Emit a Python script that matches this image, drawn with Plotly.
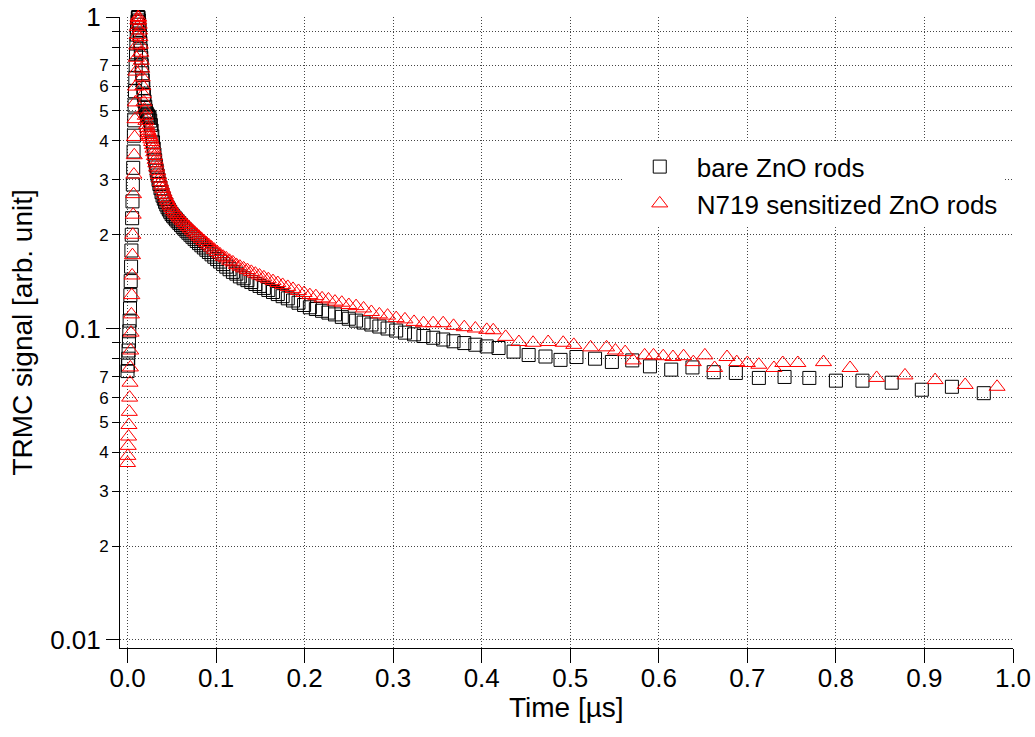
import plotly.graph_objects as go
import math

# ---- data ----
bare_t = [0.0000, 0.0004, 0.0008, 0.0012, 0.0016, 0.0020, 0.0024, 0.0028, 0.0032, 0.0036,
          0.0040, 0.0044, 0.0048, 0.0052, 0.0056, 0.0060, 0.0064, 0.0068, 0.0072, 0.0076,
          0.0080, 0.0084, 0.0088, 0.0092, 0.0096, 0.0100, 0.0104, 0.0108, 0.0112, 0.0116,
          0.0120, 0.0124, 0.0128, 0.0132, 0.0136, 0.0140, 0.0145, 0.0150, 0.0155, 0.0160,
          0.0166, 0.0172, 0.0178, 0.0185, 0.0192, 0.0200, 0.0208, 0.0216, 0.0224, 0.0232,
          0.0240, 0.0248, 0.0256, 0.0264, 0.0272, 0.0280, 0.0288, 0.0296, 0.0304, 0.0312,
          0.0320, 0.0330, 0.0340, 0.0350, 0.0360, 0.0372, 0.0384, 0.0396, 0.0410, 0.0424,
          0.0438, 0.0452, 0.0467, 0.0482, 0.0498, 0.0514, 0.0531, 0.0548, 0.0566, 0.0585,
          0.0604, 0.0624, 0.0644, 0.0665, 0.0687, 0.0710, 0.0733, 0.0757, 0.0782, 0.0808,
          0.0834, 0.0862, 0.0890, 0.0919, 0.0949, 0.0980, 0.1012, 0.1045, 0.1080, 0.1115,
          0.1152, 0.1190, 0.1229, 0.1269, 0.1311, 0.1354, 0.1398, 0.1444, 0.1491, 0.1540,
          0.1590, 0.1643, 0.1697, 0.1752, 0.1810, 0.1869, 0.1931, 0.1994, 0.2059, 0.2127,
          0.2197, 0.2269, 0.2343, 0.2420, 0.2499, 0.2581, 0.2666, 0.2754, 0.2844, 0.2937,
          0.3034, 0.3133, 0.3236, 0.3342, 0.3452, 0.3565, 0.3682, 0.3803, 0.3928, 0.4057,
          0.4190, 0.436, 0.453, 0.472, 0.489, 0.507, 0.528, 0.547, 0.570, 0.590,
          0.614, 0.638, 0.662, 0.687, 0.713, 0.742, 0.770, 0.800, 0.830, 0.863,
          0.897, 0.931, 0.967]
bare_v = [0.073, 0.076, 0.080, 0.085, 0.091, 0.098, 0.106, 0.116, 0.128, 0.142,
          0.158, 0.178, 0.200, 0.226, 0.256, 0.290, 0.328, 0.370, 0.416, 0.466,
          0.520, 0.578, 0.638, 0.700, 0.762, 0.822, 0.878, 0.926, 0.965, 0.992,
          1.000, 0.995, 0.975, 0.945, 0.910, 0.870, 0.825, 0.780, 0.740, 0.700,
          0.660, 0.625, 0.592, 0.562, 0.536, 0.515, 0.500, 0.490, 0.484, 0.480,
          0.478, 0.475, 0.465, 0.450, 0.432, 0.414, 0.396, 0.378, 0.362, 0.347,
          0.334, 0.321, 0.310, 0.300, 0.291, 0.282, 0.274, 0.267, 0.261, 0.255,
          0.250, 0.245, 0.241, 0.237, 0.233, 0.230, 0.227, 0.224, 0.221, 0.218,
          0.215, 0.212, 0.209, 0.206, 0.203, 0.200, 0.197, 0.194, 0.191, 0.188,
          0.185, 0.182, 0.179, 0.176, 0.173, 0.170, 0.167, 0.164, 0.161, 0.158,
          0.155, 0.152, 0.150, 0.147, 0.145, 0.143, 0.141, 0.139, 0.137, 0.135,
          0.133, 0.131, 0.129, 0.127, 0.125, 0.123, 0.121, 0.119, 0.117, 0.1155,
          0.114, 0.1125, 0.111, 0.109, 0.1075, 0.106, 0.1045, 0.103, 0.1015, 0.100,
          0.0985, 0.097, 0.0958, 0.0946, 0.0934, 0.0922, 0.091, 0.0898, 0.0887, 0.0876,
          0.0866, 0.0843, 0.0822, 0.0813, 0.0793, 0.0810, 0.0800, 0.0781, 0.0790, 0.0756,
          0.0738, 0.0750, 0.0724, 0.0720, 0.0694, 0.0699, 0.0694, 0.0680, 0.0680, 0.0670,
          0.0636, 0.0650, 0.0620]

sens_t = [0.0000, 0.0004, 0.0008, 0.0012, 0.0016, 0.0020, 0.0024, 0.0028, 0.0032, 0.0036,
          0.0040, 0.0044, 0.0048, 0.0052, 0.0056, 0.0060, 0.0064, 0.0068, 0.0072, 0.0076,
          0.0080, 0.0084, 0.0088, 0.0092, 0.0096, 0.0100, 0.0104, 0.0108, 0.0112, 0.0116,
          0.0120, 0.0124, 0.0128, 0.0132, 0.0136, 0.0140, 0.0145, 0.0150, 0.0155, 0.0160,
          0.0166, 0.0172, 0.0178, 0.0185, 0.0192, 0.0200, 0.0208, 0.0216, 0.0224, 0.0232,
          0.0240, 0.0248, 0.0256, 0.0264, 0.0272, 0.0280, 0.0288, 0.0296, 0.0304, 0.0312,
          0.0320, 0.0330, 0.0340, 0.0350, 0.0360, 0.0372, 0.0384, 0.0396, 0.0410, 0.0424,
          0.0438, 0.0452, 0.0467, 0.0482, 0.0498, 0.0514, 0.0531, 0.0548, 0.0566, 0.0585,
          0.0604, 0.0624, 0.0644, 0.0665, 0.0687, 0.0710, 0.0733, 0.0757, 0.0782, 0.0808,
          0.0834, 0.0862, 0.0890, 0.0919, 0.0949, 0.0980, 0.1012, 0.1045, 0.1080, 0.1115,
          0.1152, 0.1190, 0.1229, 0.1269, 0.1311, 0.1354, 0.1398, 0.1444, 0.1491, 0.1540,
          0.1590, 0.1643, 0.1697, 0.1752, 0.1810, 0.1869, 0.1931, 0.1994, 0.2059, 0.2127,
          0.2197, 0.2269, 0.2343, 0.2420, 0.2499, 0.2581, 0.2666, 0.2754, 0.2844, 0.2937,
          0.3034, 0.3133, 0.3236, 0.3342, 0.3452, 0.3565, 0.3682, 0.3803, 0.3928, 0.4057,
          0.413, 0.427, 0.442, 0.458, 0.475, 0.492, 0.504, 0.523, 0.541, 0.551,
          0.562, 0.571, 0.584, 0.594, 0.605, 0.616, 0.628, 0.639, 0.652, 0.663,
          0.677, 0.688, 0.700, 0.713, 0.730, 0.740, 0.757, 0.786, 0.816, 0.846,
          0.878, 0.912, 0.946, 0.982]
sens_v = [0.037, 0.039, 0.042, 0.045, 0.049, 0.054, 0.060, 0.067, 0.075, 0.085,
          0.097, 0.111, 0.128, 0.148, 0.172, 0.200, 0.232, 0.270, 0.312, 0.360,
          0.412, 0.470, 0.532, 0.598, 0.668, 0.740, 0.810, 0.875, 0.930, 0.975,
          1.000, 0.995, 0.975, 0.945, 0.905, 0.862, 0.815, 0.768, 0.724, 0.683,
          0.640, 0.600, 0.565, 0.533, 0.505, 0.482, 0.464, 0.450, 0.440, 0.431,
          0.424, 0.418, 0.412, 0.405, 0.397, 0.388, 0.378, 0.368, 0.358, 0.348,
          0.339, 0.329, 0.320, 0.311, 0.303, 0.295, 0.288, 0.281, 0.274, 0.268,
          0.262, 0.257, 0.252, 0.248, 0.244, 0.240, 0.236, 0.233, 0.230, 0.227,
          0.224, 0.221, 0.218, 0.215, 0.212, 0.209, 0.206, 0.203, 0.200, 0.197,
          0.194, 0.191, 0.188, 0.185, 0.182, 0.179, 0.176, 0.173, 0.170, 0.168,
          0.165, 0.163, 0.160, 0.158, 0.156, 0.154, 0.152, 0.150, 0.148, 0.146,
          0.144, 0.142, 0.140, 0.138, 0.136, 0.134, 0.132, 0.130, 0.128, 0.127,
          0.125, 0.124, 0.122, 0.121, 0.119, 0.118, 0.116, 0.113, 0.111, 0.110,
          0.108, 0.107, 0.105, 0.104, 0.104, 0.104, 0.102, 0.101, 0.100, 0.0990,
          0.0987, 0.0940, 0.0905, 0.0900, 0.0905, 0.0900, 0.0886, 0.0870, 0.0870, 0.0850,
          0.0840, 0.0790, 0.0820, 0.0820, 0.0815, 0.0810, 0.0815, 0.0780, 0.0820, 0.0747,
          0.0810, 0.0780, 0.0775, 0.0765, 0.0747, 0.0775, 0.0775, 0.0780, 0.0747, 0.0694,
          0.0707, 0.0683, 0.0659, 0.0650]

x_ticks = [0.0, 0.1, 0.2, 0.3, 0.4, 0.5, 0.6, 0.7, 0.8, 0.9, 1.0]
x_ticklabels = ["0.0", "0.1", "0.2", "0.3", "0.4", "0.5", "0.6", "0.7", "0.8", "0.9", "1.0"]
y_major = [0.01, 0.1, 1.0]
y_major_labels = ["0.01", "0.1", "1"]
y_minor = [0.02, 0.03, 0.04, 0.05, 0.06, 0.07, 0.08, 0.09,
           0.2, 0.3, 0.4, 0.5, 0.6, 0.7, 0.8, 0.9]
y_minor_labels = ["2", "3", "4", "5", "6", "7", "", "",
                  "2", "3", "4", "5", "6", "7", "", ""]
x_title = "Time [µs]"
y_title = "TRMC signal [arb. unit]"

FONT = "Liberation Sans, Arial, sans-serif"
GRID = "#444444"
y_range = [math.log10(0.01) - 0.0257, 0.0001]
x_range = [-0.0085, 1.0]

fig = go.Figure()
fig.add_trace(go.Scatter(
    x=bare_t, y=bare_v, mode="markers", name="bare ZnO rods",
    legendgroup="a", cliponaxis=False,
    marker=dict(symbol="square-open", size=13, color="black", line=dict(width=1)),
    yaxis="y"))
fig.add_trace(go.Scatter(
    x=sens_t, y=sens_v, mode="markers", name="N719 sensitized ZnO rods",
    legendgroup="b", cliponaxis=False,
    marker=dict(symbol="triangle-up-open", size=14, color="#ff0000", line=dict(width=1)),
    yaxis="y2"))

fig.update_layout(
    width=1035, height=737,
    margin=dict(l=120, r=22, t=17, b=89, autoexpand=False),
    paper_bgcolor="white", plot_bgcolor="white",
    font=dict(family=FONT, color="black", size=26),
    showlegend=True,
    legend=dict(x=0.563, y=0.800, xanchor="left", yanchor="top",
                bgcolor="white", borderwidth=0, itemwidth=64,
                font=dict(family=FONT, size=26, color="black"),
                traceorder="grouped", tracegroupgap=0),
    xaxis=dict(range=x_range, tickmode="array", tickvals=x_ticks, ticktext=x_ticklabels,
               ticks="outside", ticklen=14, tickwidth=1, tickcolor="black",
               showline=True, linecolor="black", linewidth=1, automargin=False,
               showgrid=True, gridcolor=GRID, gridwidth=1, griddash="1px,2px",
               zeroline=False, tickfont=dict(size=26), ticklabeloverflow="allow",
               ticklabelstandoff=-7),
    yaxis=dict(type="log", range=y_range, tickmode="array",
               tickvals=y_minor, ticktext=y_minor_labels,
               ticks="outside", ticklen=7, tickwidth=1, tickcolor="black",
               showline=True, linecolor="black", linewidth=1, automargin=False,
               showgrid=True, gridcolor=GRID, gridwidth=1, griddash="1px,2px",
               zeroline=False, tickfont=dict(size=17), ticklabeloverflow="allow"),
    yaxis2=dict(type="log", range=y_range, overlaying="y", side="left",
                tickmode="array", tickvals=y_major, ticktext=y_major_labels,
                ticks="outside", ticklen=13, tickwidth=1, tickcolor="black",
                showline=False, automargin=False,
                showgrid=True, gridcolor=GRID, gridwidth=1, griddash="1px,2px",
                zeroline=False, tickfont=dict(size=26), ticklabeloverflow="allow"),
    annotations=[
        dict(text=x_title, xref="paper", yref="paper", x=0.5, y=-0.095,
             xanchor="center", yanchor="middle", showarrow=False,
             font=dict(family=FONT, size=28, color="black")),
        dict(text=y_title, xref="paper", yref="paper", x=-0.1097, y=0.5,
             xanchor="center", yanchor="middle", textangle=-90, showarrow=False,
             font=dict(family=FONT, size=28, color="black")),
    ],
)

# remove the browser's default 8px body margin so the figure fills the window
fig.write_html("out.html",
               config={"displayModeBar": False},
               post_script="document.body.style.margin='0';document.body.style.overflow='hidden';")
